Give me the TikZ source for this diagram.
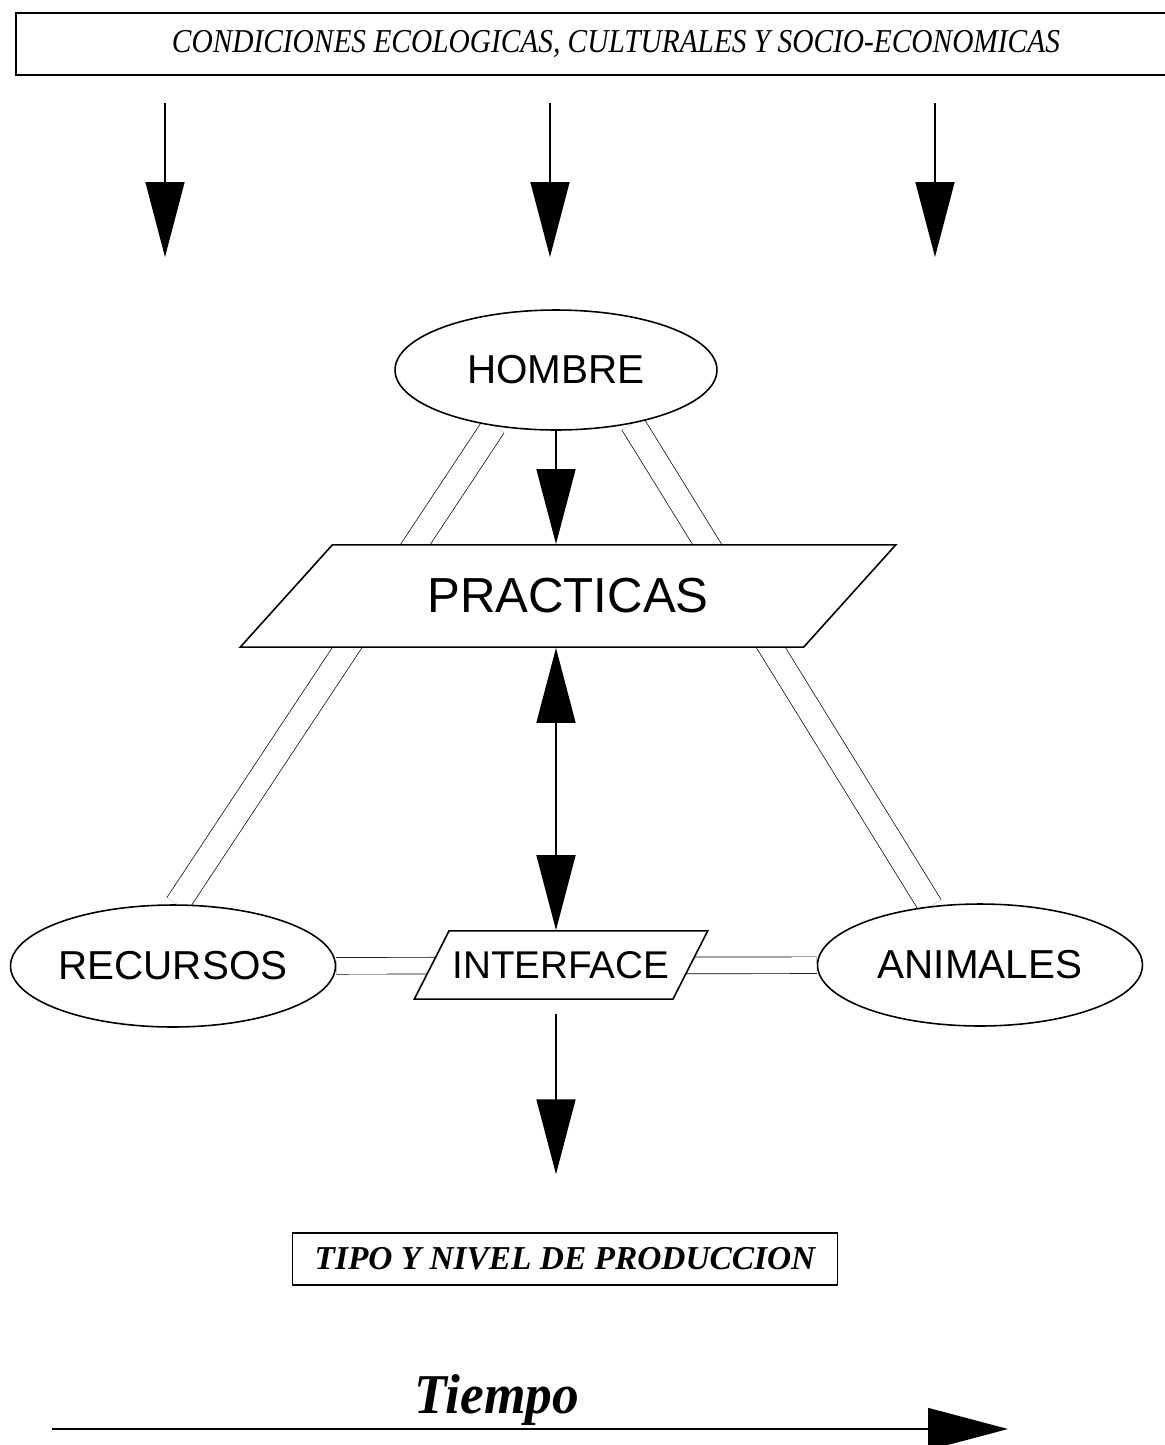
\documentclass[tikz,border=0pt]{standalone}
\usepackage{graphicx}
\usepackage{fontspec}
\setmainfont{Liberation Serif}
\setsansfont{Liberation Sans}
\usetikzlibrary{shapes.geometric,arrows.meta,backgrounds}

\begin{document}
\begin{tikzpicture}[x = 0.02cm, y = -0.02cm, line width = 0.9pt,
    actor/.style = {ellipse, draw, fill = white, inner sep = 0pt,
      minimum width = 6.5cm, minimum height = 2.44cm,
      font = \sffamily\fontsize{23}{23}\selectfont},
    slanted/.style = {trapezium, draw, fill = white},
    bigarrow/.style = {-{Triangle[length = 1.5cm, width = 0.78cm]}},
    link/.style = {double, double distance = 0.48cm}]
      \useasboundingbox (0,0) rectangle (1165,1445);
      \clip (0,0) rectangle (1165,1445);
      % place nodes
      \node (cond) [draw, minimum width = 24cm, minimum height = 1.24cm, inner sep = 0pt,
        font = \itshape\fontsize{19}{19}\selectfont] at (616,44)
        {\scalebox{0.88}[1]{CONDICIONES ECOLOGICAS, CULTURALES Y SOCIO-ECONOMICAS}};
      \coordinate (a1) at (165,257);
      \coordinate (a2) at (550,257);
      \coordinate (a3) at (935,257);

      \node (hombre) [actor, minimum width = 6.44cm, minimum height = 2.4cm] at (556,370) {HOMBRE};
      \node (practicas) [slanted, trapezium left angle = 48, trapezium right angle = 132,
        inner xsep = 54pt, inner ysep = 19.2pt,
        font = \sffamily\fontsize{28}{28}\selectfont] at (568,596) {PRACTICAS};

      \node (recursos) [actor] at (173,966) {RECURSOS};
      \node (animales) [actor] at (980,965) {ANIMALES};
      \node (interface) [slanted, trapezium left angle = 63, trapezium right angle = 117,
        inner xsep = 2pt, inner ysep = 11.6pt,
        font = \sffamily\fontsize{22}{22}\selectfont] at (561,965) {INTERFACE};

      \node (tipo) [draw, minimum width = 10.9cm, minimum height = 1.04cm, inner sep = 0pt,
        font = \bfseries\itshape\fontsize{19}{19}\selectfont] at (565,1259)
        {TIPO Y NIVEL DE PRODUCCION};

      \node (tiempo) [anchor = base, inner sep = 0pt,
        font = \bfseries\itshape\fontsize{32}{32}\selectfont] at (497,1413)
        {\scalebox{0.95}[1]{Tiempo}};
      \coordinate (t0) at (52,1429);
      \coordinate (t1) at (1008,1429);
      % draw edges
      \draw [bigarrow, shorten <= 0.54cm] (cond.south -| a1) -- (a1);
      \draw [bigarrow, shorten <= 0.54cm] (cond.south -| a2) -- (a2);
      \draw [bigarrow, shorten <= 0.54cm] (cond.south -| a3) -- (a3);

      \draw [bigarrow] (hombre.south) -- (hombre.south |- practicas.north);
      \draw [{Triangle[length = 1.5cm, width = 0.78cm]}-{Triangle[length = 1.5cm, width = 0.78cm]}]
        (hombre.south |- practicas.south) -- (hombre.south |- interface.north);
      \draw [bigarrow, shorten <= 0.28cm, shorten >= 1.16cm]
        (hombre.south |- interface.south) -- (hombre.south |- tipo.north);

      \begin{scope}[on background layer, line width = 1pt]
        \draw [link] (hombre.222) -- (recursos.86);
        \draw [link] (hombre.325) -- (animales.130);
        \draw [link, double distance = 0.32cm] (recursos) -- (animales);
      \end{scope}

      \draw [-{Triangle[length = 1.6cm, width = 0.84cm]}] (t0) -- (t1);
\end{tikzpicture}
\end{document}
